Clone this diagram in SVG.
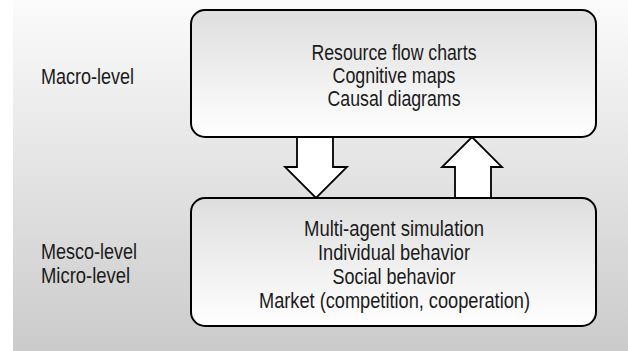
<svg xmlns="http://www.w3.org/2000/svg" width="628" height="351" viewBox="0 0 628 351">
<defs>
<linearGradient id="bg" x1="0" y1="0" x2="0" y2="1">
<stop offset="0" stop-color="#fbfbfb"/>
<stop offset="1" stop-color="#cbcbcb"/>
</linearGradient>
<linearGradient id="boxfill" x1="0" y1="0" x2="0" y2="1">
<stop offset="0" stop-color="#dedede"/>
<stop offset="1" stop-color="#ffffff"/>
</linearGradient>
<style>
.box{fill:url(#boxfill);stroke:#000;stroke-width:2}
.arrow{fill:#fff;stroke:#000;stroke-width:1.8;stroke-linejoin:miter}
text{font-family:"Liberation Sans Narrow","Liberation Sans",Arial,sans-serif;font-size:22px;fill:#1a1a1a}
.c{text-anchor:middle}
</style>
</defs>
<rect x="0" y="0" width="628" height="351" fill="#ffffff"/>
<rect x="13" y="0" width="615" height="351" fill="url(#bg)"/>
<g id="label-macro">
<text x="41" y="84" textLength="93" lengthAdjust="spacingAndGlyphs">Macro-level</text>
</g>
<g id="label-meso-micro">
<text x="41" y="259" textLength="96" lengthAdjust="spacingAndGlyphs">Mesco-level</text>
<text x="41" y="283" textLength="89" lengthAdjust="spacingAndGlyphs">Micro-level</text>
</g>
<g id="connectors">
<polygon class="arrow" points="297,137 333,137 333,167 347,167 316,198 285,167 297,167"/>
<polygon class="arrow" points="455,198 491,198 491,167 502,167 472,137 442,167 455,167"/>
</g>
<g id="node-macro">
<rect class="box" x="191" y="10" width="405" height="127" rx="14" ry="14"/>
<text class="c" x="394" y="60" textLength="165" lengthAdjust="spacingAndGlyphs">Resource flow charts</text>
<text class="c" x="394" y="83" textLength="123" lengthAdjust="spacingAndGlyphs">Cognitive maps</text>
<text class="c" x="394" y="106" textLength="133" lengthAdjust="spacingAndGlyphs">Causal diagrams</text>
</g>
<g id="node-micro">
<rect class="box" x="191" y="198" width="405" height="128" rx="14" ry="14"/>
<text class="c" x="394" y="236" textLength="180" lengthAdjust="spacingAndGlyphs">Multi-agent simulation</text>
<text class="c" x="394" y="260" textLength="152" lengthAdjust="spacingAndGlyphs">Individual behavior</text>
<text class="c" x="394" y="284" textLength="123" lengthAdjust="spacingAndGlyphs">Social behavior</text>
<text class="c" x="394.5" y="308" textLength="271" lengthAdjust="spacingAndGlyphs">Market (competition, cooperation)</text>
</g>
</svg>
